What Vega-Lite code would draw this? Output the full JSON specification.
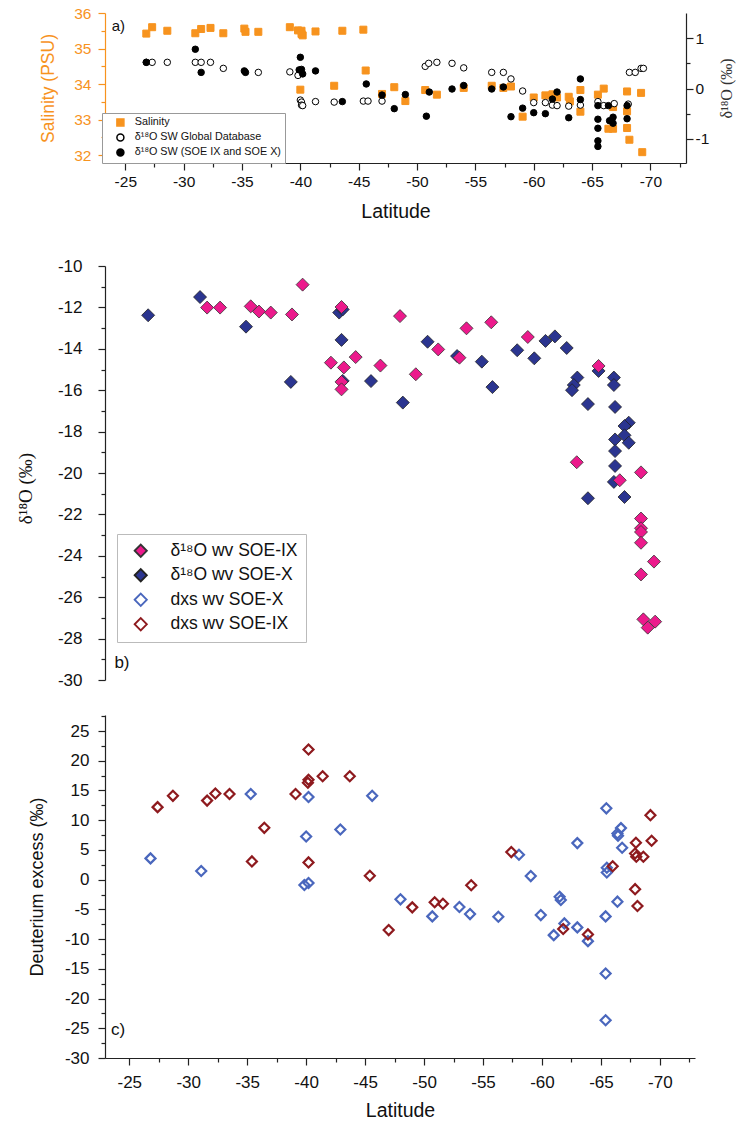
{
  "$schema": "https://vega.github.io/schema/vega-lite/v6.json",
  "padding": {"left": 16, "top": 6, "right": 4, "bottom": 4},
  "config": {
    "font": "Liberation Sans",
    "view": {"stroke": null},
    "axis": {"grid": false, "domainColor": "#222", "tickColor": "#222", "labelColor": "#111", "titleColor": "#111", "titleFontWeight": "normal", "labelFont": "Liberation Sans", "titleFont": "Liberation Sans", "domainWidth": 1.2, "tickWidth": 1.2, "labelOverlap": false, "labelFlush": false},
    "legend": {"labelFont": "Liberation Sans", "labelColor": "#111"}
  },
  "datasets": {
    "sal": [
      {"lat": -26.8, "v": 35.42, "series": "Salinity"}, {"lat": -27.3, "v": 35.6, "series": "Salinity"}, {"lat": -28.6, "v": 35.5, "series": "Salinity"},
      {"lat": -31.0, "v": 35.43, "series": "Salinity"}, {"lat": -31.5, "v": 35.55, "series": "Salinity"}, {"lat": -32.3, "v": 35.58, "series": "Salinity"},
      {"lat": -33.4, "v": 35.43, "series": "Salinity"}, {"lat": -35.2, "v": 35.56, "series": "Salinity"}, {"lat": -35.3, "v": 35.47, "series": "Salinity"},
      {"lat": -36.4, "v": 35.47, "series": "Salinity"}, {"lat": -39.1, "v": 35.6, "series": "Salinity"}, {"lat": -39.8, "v": 35.51, "series": "Salinity"},
      {"lat": -40.1, "v": 35.5, "series": "Salinity"}, {"lat": -40.1, "v": 35.41, "series": "Salinity"}, {"lat": -40.2, "v": 35.37, "series": "Salinity"},
      {"lat": -41.3, "v": 35.48, "series": "Salinity"}, {"lat": -43.6, "v": 35.5, "series": "Salinity"}, {"lat": -45.4, "v": 35.53, "series": "Salinity"},
      {"lat": -40.0, "v": 33.84, "series": "Salinity"}, {"lat": -42.9, "v": 33.95, "series": "Salinity"}, {"lat": -45.6, "v": 34.38, "series": "Salinity"},
      {"lat": -47.0, "v": 33.72, "series": "Salinity"}, {"lat": -48.05, "v": 33.91, "series": "Salinity"}, {"lat": -49.0, "v": 33.52, "series": "Salinity"},
      {"lat": -50.7, "v": 33.83, "series": "Salinity"}, {"lat": -51.7, "v": 33.7, "series": "Salinity"}, {"lat": -54.0, "v": 33.89, "series": "Salinity"},
      {"lat": -56.4, "v": 33.95, "series": "Salinity"}, {"lat": -57.4, "v": 33.89, "series": "Salinity"}, {"lat": -58.05, "v": 33.93, "series": "Salinity"},
      {"lat": -59.05, "v": 33.08, "series": "Salinity"}, {"lat": -60.0, "v": 33.62, "series": "Salinity"}, {"lat": -61.0, "v": 33.68, "series": "Salinity"},
      {"lat": -61.6, "v": 33.71, "series": "Salinity"}, {"lat": -62.0, "v": 33.62, "series": "Salinity"}, {"lat": -63.0, "v": 33.64, "series": "Salinity"},
      {"lat": -63.1, "v": 33.51, "series": "Salinity"}, {"lat": -64.0, "v": 33.83, "series": "Salinity"}, {"lat": -64.0, "v": 33.22, "series": "Salinity"},
      {"lat": -65.5, "v": 33.7, "series": "Salinity"}, {"lat": -66.0, "v": 33.87, "series": "Salinity"}, {"lat": -66.4, "v": 32.74, "series": "Salinity"},
      {"lat": -66.8, "v": 32.74, "series": "Salinity"}, {"lat": -66.8, "v": 33.35, "series": "Salinity"}, {"lat": -68.0, "v": 33.79, "series": "Salinity"},
      {"lat": -68.0, "v": 33.23, "series": "Salinity"}, {"lat": -68.0, "v": 32.76, "series": "Salinity"}, {"lat": -68.2, "v": 32.43, "series": "Salinity"},
      {"lat": -69.2, "v": 33.75, "series": "Salinity"}, {"lat": -69.3, "v": 32.08, "series": "Salinity"}
    ],
    "sw": [
      {"lat": -26.8, "v": 0.52, "series": "δ¹⁸O SW Global Database"}, {"lat": -27.3, "v": 0.52, "series": "δ¹⁸O SW Global Database"},
      {"lat": -28.6, "v": 0.52, "series": "δ¹⁸O SW Global Database"}, {"lat": -31.0, "v": 0.52, "series": "δ¹⁸O SW Global Database"},
      {"lat": -31.5, "v": 0.52, "series": "δ¹⁸O SW Global Database"}, {"lat": -32.3, "v": 0.52, "series": "δ¹⁸O SW Global Database"},
      {"lat": -33.4, "v": 0.4, "series": "δ¹⁸O SW Global Database"}, {"lat": -36.4, "v": 0.32, "series": "δ¹⁸O SW Global Database"},
      {"lat": -39.1, "v": 0.33, "series": "δ¹⁸O SW Global Database"}, {"lat": -39.8, "v": 0.26, "series": "δ¹⁸O SW Global Database"},
      {"lat": -40.0, "v": -0.23, "series": "δ¹⁸O SW Global Database"}, {"lat": -40.1, "v": -0.27, "series": "δ¹⁸O SW Global Database"},
      {"lat": -40.1, "v": -0.33, "series": "δ¹⁸O SW Global Database"}, {"lat": -40.2, "v": -0.34, "series": "δ¹⁸O SW Global Database"},
      {"lat": -41.3, "v": -0.26, "series": "δ¹⁸O SW Global Database"}, {"lat": -42.9, "v": -0.27, "series": "δ¹⁸O SW Global Database"},
      {"lat": -45.4, "v": -0.25, "series": "δ¹⁸O SW Global Database"}, {"lat": -45.8, "v": -0.25, "series": "δ¹⁸O SW Global Database"},
      {"lat": -47.0, "v": -0.25, "series": "δ¹⁸O SW Global Database"}, {"lat": -50.7, "v": 0.44, "series": "δ¹⁸O SW Global Database"},
      {"lat": -51.0, "v": 0.5, "series": "δ¹⁸O SW Global Database"}, {"lat": -51.7, "v": 0.52, "series": "δ¹⁸O SW Global Database"},
      {"lat": -53.0, "v": 0.5, "series": "δ¹⁸O SW Global Database"}, {"lat": -54.0, "v": 0.41, "series": "δ¹⁸O SW Global Database"},
      {"lat": -56.4, "v": 0.32, "series": "δ¹⁸O SW Global Database"}, {"lat": -57.4, "v": 0.32, "series": "δ¹⁸O SW Global Database"},
      {"lat": -58.05, "v": 0.19, "series": "δ¹⁸O SW Global Database"}, {"lat": -59.05, "v": -0.05, "series": "δ¹⁸O SW Global Database"},
      {"lat": -60.0, "v": -0.28, "series": "δ¹⁸O SW Global Database"}, {"lat": -61.0, "v": -0.28, "series": "δ¹⁸O SW Global Database"},
      {"lat": -61.6, "v": -0.33, "series": "δ¹⁸O SW Global Database"}, {"lat": -62.0, "v": -0.34, "series": "δ¹⁸O SW Global Database"},
      {"lat": -63.0, "v": -0.35, "series": "δ¹⁸O SW Global Database"}, {"lat": -64.0, "v": -0.33, "series": "δ¹⁸O SW Global Database"},
      {"lat": -65.5, "v": -0.26, "series": "δ¹⁸O SW Global Database"}, {"lat": -66.0, "v": -0.34, "series": "δ¹⁸O SW Global Database"},
      {"lat": -66.9, "v": -0.3, "series": "δ¹⁸O SW Global Database"}, {"lat": -68.1, "v": -0.31, "series": "δ¹⁸O SW Global Database"},
      {"lat": -68.2, "v": 0.32, "series": "δ¹⁸O SW Global Database"}, {"lat": -68.7, "v": 0.32, "series": "δ¹⁸O SW Global Database"},
      {"lat": -69.2, "v": 0.4, "series": "δ¹⁸O SW Global Database"}, {"lat": -69.4, "v": 0.4, "series": "δ¹⁸O SW Global Database"},
      {"lat": -26.8, "v": 0.52, "series": "δ¹⁸O SW (SOE IX and SOE X)"}, {"lat": -31.0, "v": 0.78, "series": "δ¹⁸O SW (SOE IX and SOE X)"},
      {"lat": -31.5, "v": 0.32, "series": "δ¹⁸O SW (SOE IX and SOE X)"}, {"lat": -35.2, "v": 0.35, "series": "δ¹⁸O SW (SOE IX and SOE X)"},
      {"lat": -35.3, "v": 0.32, "series": "δ¹⁸O SW (SOE IX and SOE X)"}, {"lat": -40.0, "v": 0.62, "series": "δ¹⁸O SW (SOE IX and SOE X)"},
      {"lat": -39.9, "v": 0.37, "series": "δ¹⁸O SW (SOE IX and SOE X)"}, {"lat": -40.1, "v": 0.38, "series": "δ¹⁸O SW (SOE IX and SOE X)"},
      {"lat": -40.2, "v": 0.29, "series": "δ¹⁸O SW (SOE IX and SOE X)"}, {"lat": -41.3, "v": 0.35, "series": "δ¹⁸O SW (SOE IX and SOE X)"},
      {"lat": -43.6, "v": -0.26, "series": "δ¹⁸O SW (SOE IX and SOE X)"}, {"lat": -45.65, "v": 0.09, "series": "δ¹⁸O SW (SOE IX and SOE X)"},
      {"lat": -47.0, "v": -0.13, "series": "δ¹⁸O SW (SOE IX and SOE X)"}, {"lat": -48.05, "v": -0.4, "series": "δ¹⁸O SW (SOE IX and SOE X)"},
      {"lat": -49.0, "v": -0.12, "series": "δ¹⁸O SW (SOE IX and SOE X)"}, {"lat": -50.8, "v": -0.55, "series": "δ¹⁸O SW (SOE IX and SOE X)"},
      {"lat": -51.05, "v": -0.07, "series": "δ¹⁸O SW (SOE IX and SOE X)"}, {"lat": -53.0, "v": -0.01, "series": "δ¹⁸O SW (SOE IX and SOE X)"},
      {"lat": -54.0, "v": 0.06, "series": "δ¹⁸O SW (SOE IX and SOE X)"}, {"lat": -56.4, "v": -0.01, "series": "δ¹⁸O SW (SOE IX and SOE X)"},
      {"lat": -57.4, "v": 0.03, "series": "δ¹⁸O SW (SOE IX and SOE X)"}, {"lat": -58.05, "v": -0.56, "series": "δ¹⁸O SW (SOE IX and SOE X)"},
      {"lat": -59.05, "v": -0.39, "series": "δ¹⁸O SW (SOE IX and SOE X)"}, {"lat": -60.0, "v": -0.48, "series": "δ¹⁸O SW (SOE IX and SOE X)"},
      {"lat": -61.0, "v": -0.5, "series": "δ¹⁸O SW (SOE IX and SOE X)"}, {"lat": -61.6, "v": -0.21, "series": "δ¹⁸O SW (SOE IX and SOE X)"},
      {"lat": -62.0, "v": -0.07, "series": "δ¹⁸O SW (SOE IX and SOE X)"}, {"lat": -63.0, "v": -0.58, "series": "δ¹⁸O SW (SOE IX and SOE X)"},
      {"lat": -64.0, "v": 0.19, "series": "δ¹⁸O SW (SOE IX and SOE X)"}, {"lat": -64.0, "v": -0.22, "series": "δ¹⁸O SW (SOE IX and SOE X)"},
      {"lat": -65.5, "v": -0.34, "series": "δ¹⁸O SW (SOE IX and SOE X)"}, {"lat": -65.5, "v": -0.61, "series": "δ¹⁸O SW (SOE IX and SOE X)"},
      {"lat": -65.5, "v": -0.79, "series": "δ¹⁸O SW (SOE IX and SOE X)"}, {"lat": -65.5, "v": -1.04, "series": "δ¹⁸O SW (SOE IX and SOE X)"},
      {"lat": -65.5, "v": -1.15, "series": "δ¹⁸O SW (SOE IX and SOE X)"}, {"lat": -66.4, "v": -0.34, "series": "δ¹⁸O SW (SOE IX and SOE X)"},
      {"lat": -66.5, "v": -0.64, "series": "δ¹⁸O SW (SOE IX and SOE X)"}, {"lat": -66.8, "v": -0.57, "series": "δ¹⁸O SW (SOE IX and SOE X)"},
      {"lat": -66.8, "v": -0.69, "series": "δ¹⁸O SW (SOE IX and SOE X)"}, {"lat": -68.0, "v": -0.34, "series": "δ¹⁸O SW (SOE IX and SOE X)"},
      {"lat": -68.0, "v": -0.6, "series": "δ¹⁸O SW (SOE IX and SOE X)"}
    ],
    "wv": [
      {"lat": -26.6, "v": -12.38, "series": "δ¹⁸O wv SOE-X"}, {"lat": -31.0, "v": -11.5, "series": "δ¹⁸O wv SOE-X"},
      {"lat": -34.9, "v": -12.93, "series": "δ¹⁸O wv SOE-X"}, {"lat": -38.7, "v": -15.6, "series": "δ¹⁸O wv SOE-X"},
      {"lat": -42.8, "v": -12.25, "series": "δ¹⁸O wv SOE-X"}, {"lat": -43.1, "v": -12.1, "series": "δ¹⁸O wv SOE-X"},
      {"lat": -43.0, "v": -13.57, "series": "δ¹⁸O wv SOE-X"}, {"lat": -43.1, "v": -15.55, "series": "δ¹⁸O wv SOE-X"},
      {"lat": -45.5, "v": -15.56, "series": "δ¹⁸O wv SOE-X"}, {"lat": -48.2, "v": -16.6, "series": "δ¹⁸O wv SOE-X"},
      {"lat": -50.3, "v": -13.66, "series": "δ¹⁸O wv SOE-X"}, {"lat": -52.8, "v": -14.35, "series": "δ¹⁸O wv SOE-X"},
      {"lat": -54.9, "v": -14.62, "series": "δ¹⁸O wv SOE-X"}, {"lat": -55.8, "v": -15.85, "series": "δ¹⁸O wv SOE-X"},
      {"lat": -57.9, "v": -14.07, "series": "δ¹⁸O wv SOE-X"}, {"lat": -59.35, "v": -14.46, "series": "δ¹⁸O wv SOE-X"},
      {"lat": -60.3, "v": -13.62, "series": "δ¹⁸O wv SOE-X"}, {"lat": -61.1, "v": -13.4, "series": "δ¹⁸O wv SOE-X"},
      {"lat": -62.1, "v": -13.96, "series": "δ¹⁸O wv SOE-X"}, {"lat": -64.8, "v": -15.07, "series": "δ¹⁸O wv SOE-X"},
      {"lat": -63.0, "v": -15.39, "series": "δ¹⁸O wv SOE-X"}, {"lat": -62.7, "v": -15.75, "series": "δ¹⁸O wv SOE-X"},
      {"lat": -62.55, "v": -16.0, "series": "δ¹⁸O wv SOE-X"}, {"lat": -63.9, "v": -16.67, "series": "δ¹⁸O wv SOE-X"},
      {"lat": -66.1, "v": -15.39, "series": "δ¹⁸O wv SOE-X"}, {"lat": -66.1, "v": -15.75, "series": "δ¹⁸O wv SOE-X"},
      {"lat": -66.2, "v": -16.81, "series": "δ¹⁸O wv SOE-X"}, {"lat": -67.36, "v": -17.57, "series": "δ¹⁸O wv SOE-X"},
      {"lat": -67.0, "v": -17.73, "series": "δ¹⁸O wv SOE-X"}, {"lat": -67.0, "v": -18.18, "series": "δ¹⁸O wv SOE-X"},
      {"lat": -66.2, "v": -18.38, "series": "δ¹⁸O wv SOE-X"}, {"lat": -67.36, "v": -18.54, "series": "δ¹⁸O wv SOE-X"},
      {"lat": -66.2, "v": -18.94, "series": "δ¹⁸O wv SOE-X"}, {"lat": -66.2, "v": -19.66, "series": "δ¹⁸O wv SOE-X"},
      {"lat": -66.1, "v": -20.43, "series": "δ¹⁸O wv SOE-X"}, {"lat": -63.9, "v": -21.22, "series": "δ¹⁸O wv SOE-X"},
      {"lat": -67.0, "v": -21.16, "series": "δ¹⁸O wv SOE-X"},
      {"lat": -31.6, "v": -12.01, "series": "δ¹⁸O wv SOE-IX"}, {"lat": -32.7, "v": -12.01, "series": "δ¹⁸O wv SOE-IX"},
      {"lat": -35.3, "v": -11.95, "series": "δ¹⁸O wv SOE-IX"}, {"lat": -36.0, "v": -12.2, "series": "δ¹⁸O wv SOE-IX"},
      {"lat": -37.0, "v": -12.25, "series": "δ¹⁸O wv SOE-IX"}, {"lat": -38.8, "v": -12.34, "series": "δ¹⁸O wv SOE-IX"},
      {"lat": -39.7, "v": -10.9, "series": "δ¹⁸O wv SOE-IX"}, {"lat": -43.0, "v": -11.98, "series": "δ¹⁸O wv SOE-IX"},
      {"lat": -42.1, "v": -14.67, "series": "δ¹⁸O wv SOE-IX"}, {"lat": -43.2, "v": -14.9, "series": "δ¹⁸O wv SOE-IX"},
      {"lat": -44.2, "v": -14.4, "series": "δ¹⁸O wv SOE-IX"}, {"lat": -43.0, "v": -15.6, "series": "δ¹⁸O wv SOE-IX"},
      {"lat": -43.0, "v": -15.96, "series": "δ¹⁸O wv SOE-IX"}, {"lat": -47.96, "v": -12.42, "series": "δ¹⁸O wv SOE-IX"},
      {"lat": -46.3, "v": -14.81, "series": "δ¹⁸O wv SOE-IX"}, {"lat": -49.3, "v": -15.23, "series": "δ¹⁸O wv SOE-IX"},
      {"lat": -51.2, "v": -14.03, "series": "δ¹⁸O wv SOE-IX"}, {"lat": -53.0, "v": -14.43, "series": "δ¹⁸O wv SOE-IX"},
      {"lat": -53.6, "v": -13.01, "series": "δ¹⁸O wv SOE-IX"}, {"lat": -55.7, "v": -12.72, "series": "δ¹⁸O wv SOE-IX"},
      {"lat": -58.8, "v": -13.43, "series": "δ¹⁸O wv SOE-IX"}, {"lat": -64.8, "v": -14.83, "series": "δ¹⁸O wv SOE-IX"},
      {"lat": -62.95, "v": -19.48, "series": "δ¹⁸O wv SOE-IX"}, {"lat": -68.4, "v": -19.97, "series": "δ¹⁸O wv SOE-IX"},
      {"lat": -66.6, "v": -20.35, "series": "δ¹⁸O wv SOE-IX"}, {"lat": -68.4, "v": -22.2, "series": "δ¹⁸O wv SOE-IX"},
      {"lat": -68.4, "v": -22.67, "series": "δ¹⁸O wv SOE-IX"}, {"lat": -68.4, "v": -22.85, "series": "δ¹⁸O wv SOE-IX"},
      {"lat": -68.4, "v": -23.37, "series": "δ¹⁸O wv SOE-IX"}, {"lat": -69.5, "v": -24.28, "series": "δ¹⁸O wv SOE-IX"},
      {"lat": -68.4, "v": -24.9, "series": "δ¹⁸O wv SOE-IX"}, {"lat": -68.6, "v": -27.07, "series": "δ¹⁸O wv SOE-IX"},
      {"lat": -69.6, "v": -27.18, "series": "δ¹⁸O wv SOE-IX"}, {"lat": -68.97, "v": -27.47, "series": "δ¹⁸O wv SOE-IX"}
    ],
    "dxs": [
      {"lat": -26.8, "v": 3.58, "series": "dxs wv SOE-X"}, {"lat": -31.1, "v": 1.45, "series": "dxs wv SOE-X"},
      {"lat": -35.3, "v": 14.4, "series": "dxs wv SOE-X"}, {"lat": -40.2, "v": 13.9, "series": "dxs wv SOE-X"},
      {"lat": -40.0, "v": 7.27, "series": "dxs wv SOE-X"}, {"lat": -42.9, "v": 8.45, "series": "dxs wv SOE-X"},
      {"lat": -39.85, "v": -0.9, "series": "dxs wv SOE-X"}, {"lat": -40.2, "v": -0.56, "series": "dxs wv SOE-X"},
      {"lat": -45.6, "v": 14.1, "series": "dxs wv SOE-X"}, {"lat": -65.46, "v": 12.0, "series": "dxs wv SOE-X"},
      {"lat": -66.7, "v": 8.67, "series": "dxs wv SOE-X"}, {"lat": -66.4, "v": 7.77, "series": "dxs wv SOE-X"},
      {"lat": -66.45, "v": 7.4, "series": "dxs wv SOE-X"}, {"lat": -66.8, "v": 5.37, "series": "dxs wv SOE-X"},
      {"lat": -63.0, "v": 6.15, "series": "dxs wv SOE-X"}, {"lat": -58.05, "v": 4.2, "series": "dxs wv SOE-X"},
      {"lat": -59.05, "v": 0.6, "series": "dxs wv SOE-X"}, {"lat": -65.5, "v": 2.0, "series": "dxs wv SOE-X"},
      {"lat": -65.5, "v": 1.2, "series": "dxs wv SOE-X"}, {"lat": -48.0, "v": -3.31, "series": "dxs wv SOE-X"},
      {"lat": -50.7, "v": -6.18, "series": "dxs wv SOE-X"}, {"lat": -53.0, "v": -4.6, "series": "dxs wv SOE-X"},
      {"lat": -53.9, "v": -5.79, "series": "dxs wv SOE-X"}, {"lat": -56.3, "v": -6.24, "series": "dxs wv SOE-X"},
      {"lat": -59.9, "v": -5.96, "series": "dxs wv SOE-X"}, {"lat": -61.0, "v": -9.33, "series": "dxs wv SOE-X"},
      {"lat": -61.5, "v": -2.87, "series": "dxs wv SOE-X"}, {"lat": -61.6, "v": -3.43, "series": "dxs wv SOE-X"},
      {"lat": -61.9, "v": -7.36, "series": "dxs wv SOE-X"}, {"lat": -63.0, "v": -8.03, "series": "dxs wv SOE-X"},
      {"lat": -63.9, "v": -10.34, "series": "dxs wv SOE-X"}, {"lat": -65.4, "v": -6.18, "series": "dxs wv SOE-X"},
      {"lat": -65.4, "v": -15.79, "series": "dxs wv SOE-X"}, {"lat": -65.4, "v": -23.65, "series": "dxs wv SOE-X"},
      {"lat": -66.4, "v": -3.7, "series": "dxs wv SOE-X"},
      {"lat": -27.4, "v": 12.2, "series": "dxs wv SOE-IX"}, {"lat": -28.7, "v": 14.1, "series": "dxs wv SOE-IX"},
      {"lat": -31.6, "v": 13.3, "series": "dxs wv SOE-IX"}, {"lat": -32.3, "v": 14.5, "series": "dxs wv SOE-IX"},
      {"lat": -33.5, "v": 14.4, "series": "dxs wv SOE-IX"}, {"lat": -35.4, "v": 3.07, "series": "dxs wv SOE-IX"},
      {"lat": -36.45, "v": 8.72, "series": "dxs wv SOE-IX"}, {"lat": -39.1, "v": 14.4, "series": "dxs wv SOE-IX"},
      {"lat": -40.2, "v": 21.9, "series": "dxs wv SOE-IX"}, {"lat": -40.2, "v": 16.8, "series": "dxs wv SOE-IX"},
      {"lat": -40.15, "v": 16.3, "series": "dxs wv SOE-IX"}, {"lat": -41.4, "v": 17.4, "series": "dxs wv SOE-IX"},
      {"lat": -43.7, "v": 17.4, "series": "dxs wv SOE-IX"}, {"lat": -40.2, "v": 2.9, "series": "dxs wv SOE-IX"},
      {"lat": -45.4, "v": 0.67, "series": "dxs wv SOE-IX"}, {"lat": -69.2, "v": 10.85, "series": "dxs wv SOE-IX"},
      {"lat": -69.3, "v": 6.54, "series": "dxs wv SOE-IX"}, {"lat": -67.97, "v": 6.2, "series": "dxs wv SOE-IX"},
      {"lat": -67.9, "v": 4.4, "series": "dxs wv SOE-IX"}, {"lat": -68.0, "v": 3.86, "series": "dxs wv SOE-IX"},
      {"lat": -68.6, "v": 3.86, "series": "dxs wv SOE-IX"}, {"lat": -57.4, "v": 4.64, "series": "dxs wv SOE-IX"},
      {"lat": -54.0, "v": -0.95, "series": "dxs wv SOE-IX"}, {"lat": -66.0, "v": 2.25, "series": "dxs wv SOE-IX"},
      {"lat": -67.9, "v": -1.6, "series": "dxs wv SOE-IX"}, {"lat": -50.9, "v": -3.8, "series": "dxs wv SOE-IX"},
      {"lat": -51.6, "v": -4.05, "series": "dxs wv SOE-IX"}, {"lat": -49.0, "v": -4.66, "series": "dxs wv SOE-IX"},
      {"lat": -47.0, "v": -8.48, "series": "dxs wv SOE-IX"}, {"lat": -61.8, "v": -8.31, "series": "dxs wv SOE-IX"},
      {"lat": -63.9, "v": -9.21, "series": "dxs wv SOE-IX"}, {"lat": -68.1, "v": -4.44, "series": "dxs wv SOE-IX"}
    ]
  },
  "spacing": 19,
  "resolve": {
    "scale": {"x": "independent", "y": "independent", "fill": "independent", "stroke": "independent", "shape": "independent"},
    "legend": {"fill": "independent", "stroke": "independent", "shape": "independent"}
  },
  "vconcat": [
    {
      "width": 581,
      "height": 150,
      "resolve": {"scale": {"y": "independent"}},
      "layer": [
        {
          "layer": [
            {
              "data": {"name": "sal"},
              "mark": {"type": "point", "size": 49, "opacity": 1, "strokeWidth": 1},
              "encoding": {
                "x": {"field": "lat", "type": "quantitative", "scale": {"domain": [-23.26, -73.05], "nice": false, "zero": false},
                  "axis": {"orient": "bottom", "values": [-25, -27.5, -30, -32.5, -35, -37.5, -40, -42.5, -45, -47.5, -50, -52.5, -55, -57.5, -60, -62.5, -65, -67.5, -70, -72.5],
                    "labelExpr": "datum.value % 5 === 0 ? '' + datum.value : ''",
                    "tickSize": {"condition": {"test": "datum.value % 5 !== 0", "value": 4}, "value": 7},
                    "labelFontSize": 15.5, "labelPadding": 4, "title": "Latitude", "titleFontSize": 19.5, "titlePadding": 13}},
                "y": {"field": "v", "type": "quantitative", "scale": {"domain": [31.775, 36], "nice": false, "zero": false},
                  "axis": {"orient": "left", "values": [32, 32.5, 33, 33.5, 34, 34.5, 35, 35.5, 36],
                    "labelExpr": "datum.value % 1 === 0 ? '' + datum.value : ''",
                    "tickSize": {"condition": {"test": "datum.value % 1 !== 0", "value": 4}, "value": 7},
                    "domainColor": "#F7931E", "tickColor": "#F7931E", "labelColor": "#F7931E", "titleColor": "#F7931E",
                    "labelFontSize": 15.5, "labelPadding": 7, "title": "Salinity (PSU)", "titleFontSize": 17.5, "titlePadding": 16}},
                "shape": {"field": "series", "type": "nominal",
                  "scale": {"domain": ["Salinity", "δ¹⁸O SW Global Database", "δ¹⁸O SW (SOE IX and SOE X)"], "range": ["square", "circle", "circle"]},
                  "legend": {"orient": "none", "legendX": -3, "legendY": 100, "title": null, "padding": 4, "rowPadding": 1, "symbolOffset": 9, "labelOffset": 9, "labelFontSize": 10.8, "symbolSize": 49, "strokeColor": "#999", "fillColor": "white"}},
                "fill": {"field": "series", "type": "nominal",
                  "scale": {"domain": ["Salinity", "δ¹⁸O SW Global Database", "δ¹⁸O SW (SOE IX and SOE X)"], "range": ["#F7931E", "white", "black"]},
                  "legend": {"orient": "none", "legendX": -3, "legendY": 100, "title": null, "padding": 4, "rowPadding": 1, "symbolOffset": 9, "labelOffset": 9, "labelFontSize": 10.8, "symbolSize": 49, "strokeColor": "#999", "fillColor": "white"}},
                "stroke": {"field": "series", "type": "nominal",
                  "scale": {"domain": ["Salinity", "δ¹⁸O SW Global Database", "δ¹⁸O SW (SOE IX and SOE X)"], "range": ["#F7931E", "black", "black"]},
                  "legend": {"orient": "none", "legendX": -3, "legendY": 100, "title": null, "padding": 4, "rowPadding": 1, "symbolOffset": 9, "labelOffset": 9, "labelFontSize": 10.8, "symbolSize": 49, "strokeColor": "#999", "fillColor": "white"}}
              }
            },
            {
              "data": {"values": [{}]},
              "mark": {"type": "text", "text": "a)", "fontSize": 15, "color": "#111"},
              "encoding": {
                "x": {"datum": -24.4, "type": "quantitative",
                  "axis": {"orient": "bottom", "values": [-25, -27.5, -30, -32.5, -35, -37.5, -40, -42.5, -45, -47.5, -50, -52.5, -55, -57.5, -60, -62.5, -65, -67.5, -70, -72.5],
                    "labelExpr": "datum.value % 5 === 0 ? '' + datum.value : ''",
                    "tickSize": {"condition": {"test": "datum.value % 5 !== 0", "value": 4}, "value": 7},
                    "labelFontSize": 15.5, "labelPadding": 4, "title": "Latitude", "titleFontSize": 19.5, "titlePadding": 13}},
                "y": {"datum": 35.62, "type": "quantitative",
                  "axis": {"orient": "left", "values": [32, 32.5, 33, 33.5, 34, 34.5, 35, 35.5, 36],
                    "labelExpr": "datum.value % 1 === 0 ? '' + datum.value : ''",
                    "tickSize": {"condition": {"test": "datum.value % 1 !== 0", "value": 4}, "value": 7},
                    "domainColor": "#F7931E", "tickColor": "#F7931E", "labelColor": "#F7931E", "titleColor": "#F7931E",
                    "labelFontSize": 15.5, "labelPadding": 7, "title": "Salinity (PSU)", "titleFontSize": 17.5, "titlePadding": 16}}
              }
            }
          ]
        },
        {
          "data": {"name": "sw"},
          "mark": {"type": "point", "size": 42, "opacity": 1, "strokeWidth": 1},
          "encoding": {
            "x": {"field": "lat", "type": "quantitative",
              "axis": {"orient": "bottom", "values": [-25, -27.5, -30, -32.5, -35, -37.5, -40, -42.5, -45, -47.5, -50, -52.5, -55, -57.5, -60, -62.5, -65, -67.5, -70, -72.5],
                "labelExpr": "datum.value % 5 === 0 ? '' + datum.value : ''",
                "tickSize": {"condition": {"test": "datum.value % 5 !== 0", "value": 4}, "value": 7},
                "labelFontSize": 15.5, "labelPadding": 4, "title": "Latitude", "titleFontSize": 19.5, "titlePadding": 13}},
            "y": {"field": "v", "type": "quantitative", "scale": {"domain": [-1.48, 1.5], "nice": false, "zero": false},
              "axis": {"orient": "right", "values": [-1, -0.5, 0, 0.5, 1],
                "labelExpr": "datum.value % 1 === 0 ? '' + datum.value : ''",
                "tickSize": {"condition": {"test": "datum.value % 1 !== 0", "value": 4}, "value": 7},
                "labelFontSize": 15.5, "labelPadding": 2, "title": "δ¹⁸O (‰)", "titleFont": "Liberation Serif", "titleFontSize": 16, "titleAngle": -90, "titlePadding": 26, "titleColor": "#333"}},
            "shape": {"field": "series", "type": "nominal"},
            "fill": {"field": "series", "type": "nominal"},
            "stroke": {"field": "series", "type": "nominal"}
          }
        }
      ]
    },
    {
      "width": 590,
      "height": 414,
      "title": {"text": " ", "fontSize": 10, "offset": 7},
      "layer": [
        {
          "data": {"name": "wv"},
          "mark": {"type": "point", "shape": "diamond", "size": 169, "opacity": 1, "strokeWidth": 0.8},
          "encoding": {
            "x": {"field": "lat", "type": "quantitative", "scale": {"domain": [-22.94, -72.98], "nice": false, "zero": false}, "axis": null},
            "y": {"field": "v", "type": "quantitative", "scale": {"domain": [-30, -10], "nice": false, "zero": false},
              "axis": {"orient": "left", "values": [-30, -29, -28, -27, -26, -25, -24, -23, -22, -21, -20, -19, -18, -17, -16, -15, -14, -13, -12, -11, -10],
                "labelExpr": "datum.value % 2 === 0 ? '' + datum.value : ''",
                "tickSize": {"condition": {"test": "datum.value % 2 !== 0", "value": 4}, "value": 7},
                "labelFontSize": 17, "labelPadding": 16, "title": "δ¹⁸O (‰)", "titleFont": "Liberation Serif", "titleFontSize": 19, "titlePadding": 22, "titleY": 222}},
            "fill": {"field": "series", "type": "nominal",
              "scale": {"domain": ["δ¹⁸O wv SOE-IX", "δ¹⁸O wv SOE-X", "dxs wv SOE-X", "dxs wv SOE-IX"], "range": ["#EC1A8C", "#2B3590", "transparent", "transparent"]},
              "legend": {"orient": "none", "legendX": 12, "legendY": 268, "title": null, "padding": 8, "rowPadding": 4.5, "symbolOffset": 7, "labelOffset": 21, "labelFontSize": 17.5, "symbolSize": 150, "symbolType": "diamond", "symbolStrokeWidth": 1.8, "strokeColor": "#bbb", "fillColor": "white"}},
            "stroke": {"field": "series", "type": "nominal",
              "scale": {"domain": ["δ¹⁸O wv SOE-IX", "δ¹⁸O wv SOE-X", "dxs wv SOE-X", "dxs wv SOE-IX"], "range": ["#333333", "#222222", "#4A67BD", "#8E1A1E"]},
              "legend": {"orient": "none", "legendX": 12, "legendY": 268, "title": null, "padding": 8, "rowPadding": 4.5, "symbolOffset": 7, "labelOffset": 21, "labelFontSize": 17.5, "symbolSize": 150, "symbolType": "diamond", "symbolStrokeWidth": 1.8, "strokeColor": "#bbb", "fillColor": "white"}}
          }
        },
        {
          "data": {"values": [{}]},
          "mark": {"type": "text", "text": "b)", "fontSize": 17, "color": "#111"},
          "encoding": {
            "x": {"datum": -24.38, "type": "quantitative", "axis": null},
            "y": {"datum": -29.18, "type": "quantitative",
              "axis": {"orient": "left", "values": [-30, -29, -28, -27, -26, -25, -24, -23, -22, -21, -20, -19, -18, -17, -16, -15, -14, -13, -12, -11, -10],
                "labelExpr": "datum.value % 2 === 0 ? '' + datum.value : ''",
                "tickSize": {"condition": {"test": "datum.value % 2 !== 0", "value": 4}, "value": 7},
                "labelFontSize": 17, "labelPadding": 16, "title": "δ¹⁸O (‰)", "titleFont": "Liberation Serif", "titleFontSize": 19, "titlePadding": 22, "titleY": 222}}
          }
        }
      ]
    },
    {
      "width": 590,
      "height": 343,
      "layer": [
        {
          "data": {"name": "dxs"},
          "mark": {"type": "point", "shape": "diamond", "size": 100, "opacity": 1, "strokeWidth": 2.2, "filled": false},
          "encoding": {
            "x": {"field": "lat", "type": "quantitative", "scale": {"domain": [-22.94, -72.98], "nice": false, "zero": false},
              "axis": {"orient": "bottom", "values": [-25, -27.5, -30, -32.5, -35, -37.5, -40, -42.5, -45, -47.5, -50, -52.5, -55, -57.5, -60, -62.5, -65, -67.5, -70, -72.5],
                "labelExpr": "datum.value % 5 === 0 ? '' + datum.value : ''",
                "tickSize": {"condition": {"test": "datum.value % 5 !== 0", "value": 4}, "value": 7},
                "labelFontSize": 17, "labelPadding": 9, "title": "Latitude", "titleFontSize": 19.5, "titlePadding": 11}},
            "y": {"field": "v", "type": "quantitative", "scale": {"domain": [-30, 27.7], "nice": false, "zero": false},
              "axis": {"orient": "left", "values": [-30, -27.5, -25, -22.5, -20, -17.5, -15, -12.5, -10, -7.5, -5, -2.5, 0, 2.5, 5, 7.5, 10, 12.5, 15, 17.5, 20, 22.5, 25, 27.5],
                "labelExpr": "datum.value % 5 === 0 ? '' + datum.value : ''",
                "tickSize": {"condition": {"test": "datum.value % 5 !== 0", "value": 4}, "value": 7},
                "labelFontSize": 17, "labelPadding": 9, "title": "Deuterium excess (‰)", "titleFontSize": 18, "titlePadding": 18}},
            "stroke": {"field": "series", "type": "nominal",
              "scale": {"domain": ["dxs wv SOE-X", "dxs wv SOE-IX"], "range": ["#4A67BD", "#8E1A1E"]}, "legend": null}
          }
        },
        {
          "data": {"values": [{}]},
          "mark": {"type": "text", "text": "c)", "fontSize": 17, "color": "#111"},
          "encoding": {
            "x": {"datum": -24.04, "type": "quantitative",
              "axis": {"orient": "bottom", "values": [-25, -27.5, -30, -32.5, -35, -37.5, -40, -42.5, -45, -47.5, -50, -52.5, -55, -57.5, -60, -62.5, -65, -67.5, -70, -72.5],
                "labelExpr": "datum.value % 5 === 0 ? '' + datum.value : ''",
                "tickSize": {"condition": {"test": "datum.value % 5 !== 0", "value": 4}, "value": 7},
                "labelFontSize": 17, "labelPadding": 9, "title": "Latitude", "titleFontSize": 19.5, "titlePadding": 11}},
            "y": {"datum": -25.3, "type": "quantitative",
              "axis": {"orient": "left", "values": [-30, -27.5, -25, -22.5, -20, -17.5, -15, -12.5, -10, -7.5, -5, -2.5, 0, 2.5, 5, 7.5, 10, 12.5, 15, 17.5, 20, 22.5, 25, 27.5],
                "labelExpr": "datum.value % 5 === 0 ? '' + datum.value : ''",
                "tickSize": {"condition": {"test": "datum.value % 5 !== 0", "value": 4}, "value": 7},
                "labelFontSize": 17, "labelPadding": 9, "title": "Deuterium excess (‰)", "titleFontSize": 18, "titlePadding": 18}}
          }
        }
      ]
    }
  ]
}
